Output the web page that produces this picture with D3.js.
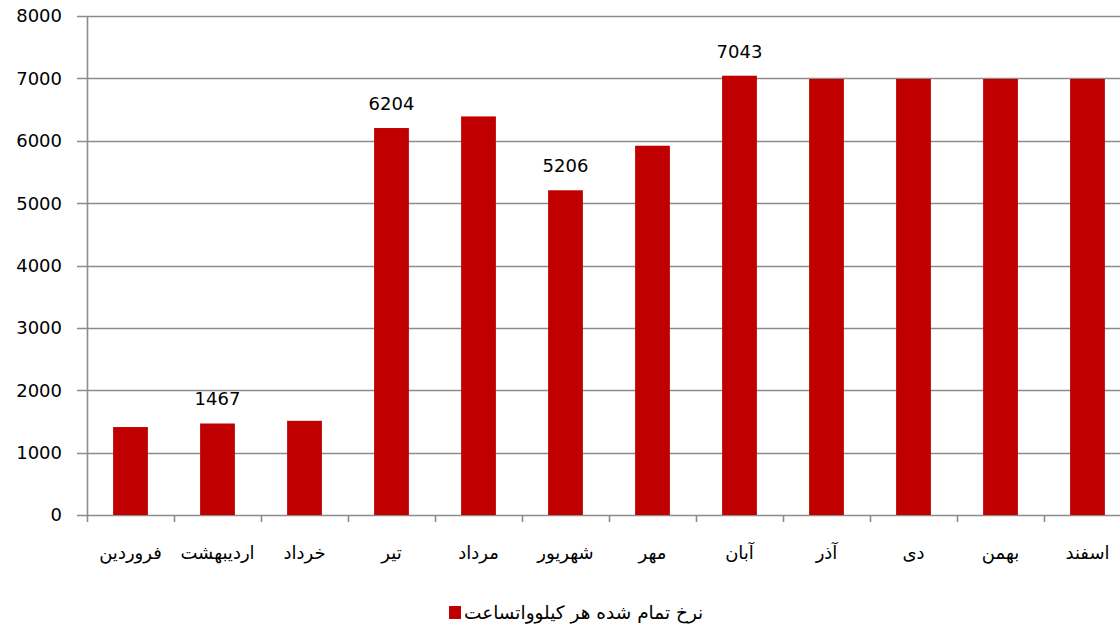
<!DOCTYPE html>
<html>
<head>
<meta charset="utf-8">
<script src="https://cdn.jsdelivr.net/npm/d3@7"></script>
<style>
  html, body { margin: 0; padding: 0; background: #fff; }
  svg { display: block; font-family: "DejaVu Sans", Verdana, sans-serif; }
</style>
</head>
<body>
<svg id="chart" width="1120" height="629"></svg>
<script>
// months of the Persian calendar, left to right
var months = ["فروردین", "اردیبهشت", "خرداد", "تیر", "مرداد", "شهریور", "مهر", "آبان", "آذر", "دی", "بهمن", "اسفند"];
var rates = [1410, 1467, 1510, 6204, 6390, 5206, 5920, 7043, 6990, 6990, 6990, 6990];
var labelled = ["اردیبهشت", "تیر", "شهریور", "آبان"];
var yTicks = [0, 1000, 2000, 3000, 4000, 5000, 6000, 7000, 8000];
var legendText = "نرخ تمام شده هر کیلوواتساعت";

var red = "#c00000", grid = "#8c8c8c";
var svg = d3.select("#chart");
var pl = 87, pr = 1131, pt = 16, pb = 515;

var x = d3.scaleBand().domain(months).range([pl, pr]).paddingInner(0.6).paddingOuter(0.3);
var y = d3.scaleLinear().domain([0, 8000]).range([pb, pt]);

// gridlines + y labels
var gy = svg.append("g");
gy.selectAll("line").data(yTicks).enter().append("line")
  .attr("x1", pl - 10).attr("x2", 1120)
  .attr("y1", function (d) { return Math.round(y(d)) + 0.5; })
  .attr("y2", function (d) { return Math.round(y(d)) + 0.5; })
  .attr("stroke", grid).attr("stroke-width", 1.6);
gy.selectAll("text").data(yTicks).enter().append("text")
  .attr("x", 62).attr("y", function (d) { return y(d); }).attr("dy", "0.36em")
  .attr("text-anchor", "end").attr("font-size", 18).attr("fill", "#000")
  .text(function (d) { return d; });

// y axis line
svg.append("line").attr("x1", pl + 0.5).attr("x2", pl + 0.5)
  .attr("y1", pt).attr("y2", pb).attr("stroke", grid).attr("stroke-width", 1.6);

// x ticks at band boundaries
var step = x.step();
var bounds = d3.range(months.length + 1).map(function (i) { return pl + i * step; });
svg.append("g").selectAll("line").data(bounds).enter().append("line")
  .attr("x1", function (d) { return Math.round(d) + 0.5; })
  .attr("x2", function (d) { return Math.round(d) + 0.5; })
  .attr("y1", pb).attr("y2", pb + 7)
  .attr("stroke", grid).attr("stroke-width", 1.6);

// bars
svg.append("g").selectAll("rect").data(months).enter().append("rect")
  .attr("x", function (d) { return x(d); })
  .attr("width", x.bandwidth())
  .attr("y", function (d, i) { return y(rates[i]); })
  .attr("height", function (d, i) { return pb - y(rates[i]); })
  .attr("fill", red);

// value labels
svg.append("g").selectAll("text").data(months.filter(function (m) { return labelled.indexOf(m) >= 0; }))
  .enter().append("text")
  .attr("x", function (d) { return x(d) + x.bandwidth() / 2; })
  .attr("y", function (d) { return y(rates[months.indexOf(d)]) - 18; })
  .attr("text-anchor", "middle").attr("font-size", 18).attr("fill", "#000")
  .text(function (d) { return rates[months.indexOf(d)]; });

// month labels
svg.append("g").selectAll("text").data(months).enter().append("text")
  .attr("x", function (d) { return x(d) + x.bandwidth() / 2; })
  .attr("y", 559).attr("text-anchor", "middle").attr("direction", "rtl")
  .attr("font-size", 18).attr("fill", "#000")
  .text(function (d) { return d; });

// legend
svg.append("rect").attr("x", 449).attr("y", 606).attr("width", 12).attr("height", 13).attr("fill", red);
svg.append("text").attr("x", 464).attr("y", 619).attr("text-anchor", "start")
  .attr("font-size", 18.5).attr("fill", "#000").text(legendText);
</script>
</body>
</html>
